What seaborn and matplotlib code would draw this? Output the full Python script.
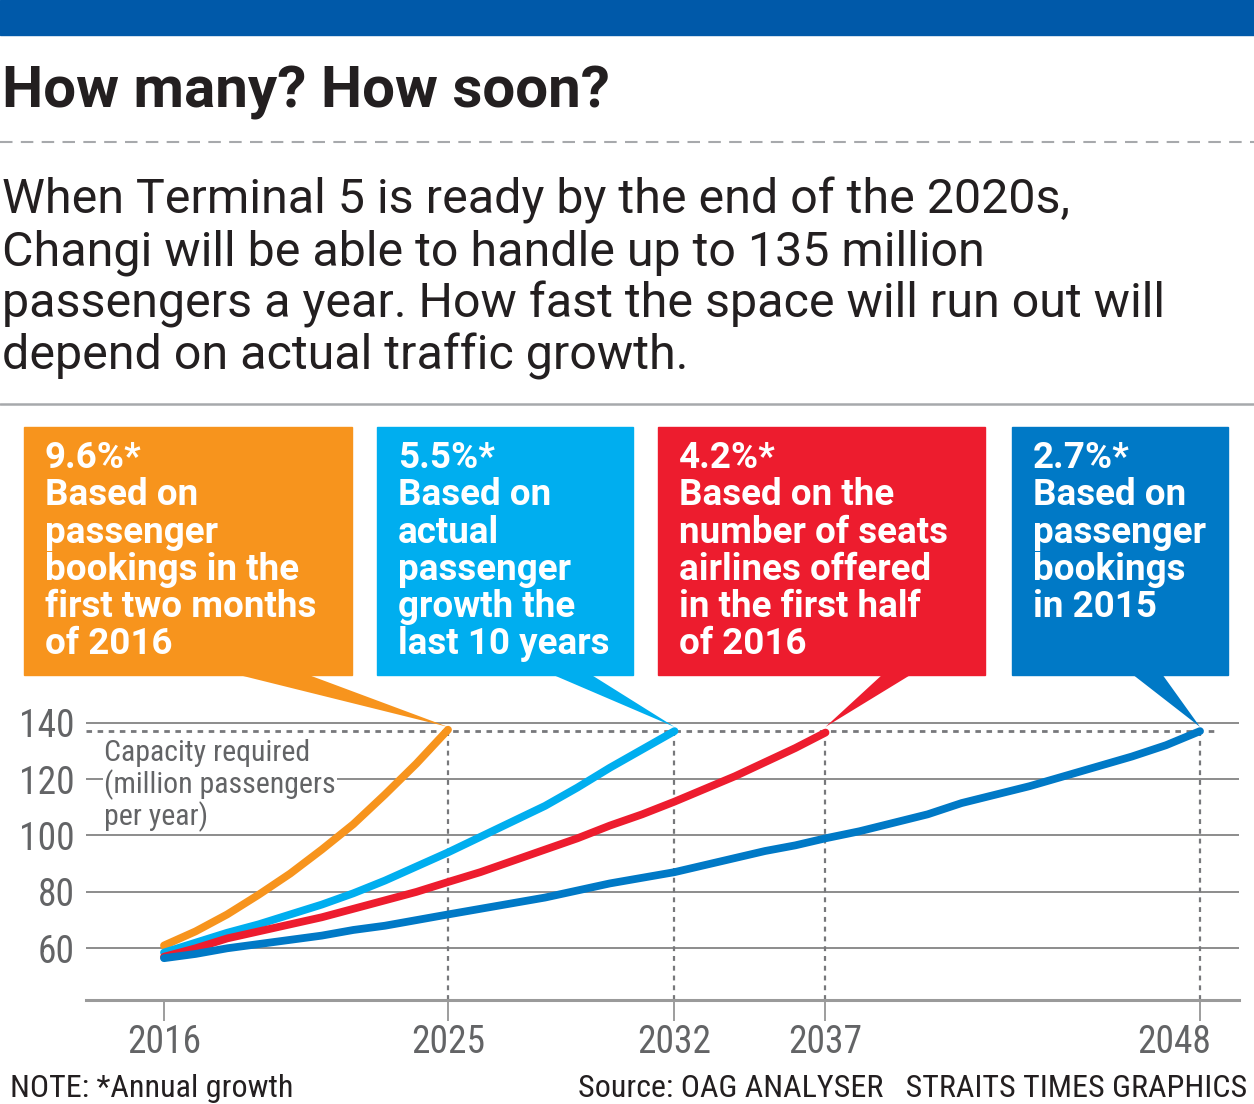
import numpy as np
import pandas as pd
import matplotlib
matplotlib.use("Agg")
import matplotlib.pyplot as plt
import matplotlib.font_manager as fm
from matplotlib.patches import Rectangle, Polygon
from matplotlib.lines import Line2D
from matplotlib.transforms import ScaledTranslation
import seaborn as sns

# ---------------- data ----------------
years_orange = [2016, 2017, 2018, 2019, 2020, 2021, 2022, 2023, 2024, 2025]
vals_orange = [61, 66, 72, 79, 86.5, 95, 104, 114.5, 125.5, 137.5]

years_lblue = list(range(2016, 2033))
vals_lblue = [58.5, 62, 65.5, 68.5, 72, 75.5, 79.5, 84, 89, 94, 99.5, 105, 110.5, 117, 124, 130.5, 137]

years_red = list(range(2016, 2038))
vals_red = [57, 60, 63.5, 66, 68.5, 71, 74, 77, 80, 83.5, 87, 91, 95, 99, 103.5, 107.5, 112,
            116.5, 121, 126, 131, 136.5]

years_dblue = list(range(2016, 2049))
vals_dblue = [56.5, 58, 60, 61.5, 63, 64.5, 66.5, 68, 70, 72, 74, 76, 78, 80.5, 83, 85, 87,
              89.5, 92, 94.5, 96.5, 99, 101.5, 104.5, 107.5, 111.5, 114.5, 117.5, 121, 124.5,
              128, 132, 137]

series_names = ["9.6%", "5.5%", "4.2%", "2.7%"]
end_years = [2025, 2032, 2037, 2048]
capacity = 137
x_ticks = [2016, 2025, 2032, 2037, 2048]
y_ticks = [60, 80, 100, 120, 140]

box_texts = [
    ["9.6%*", "Based on", "passenger", "bookings in the", "first two months", "of 2016"],
    ["5.5%*", "Based on", "actual", "passenger", "growth the", "last 10 years"],
    ["4.2%*", "Based on the", "number of seats", "airlines offered", "in the first half", "of 2016"],
    ["2.7%*", "Based on", "passenger", "bookings", "in 2015"],
]

title = "How many? How soon?"
subtitle = ["When Terminal 5 is ready by the end of the 2020s,",
            "Changi will be able to handle up to 135 million",
            "passengers a year. How fast the space will run out will",
            "depend on actual traffic growth."]
axis_label = ["Capacity required", "(million passengers", "per year)"]
note = "NOTE: *Annual growth"
source = "Source: OAG ANALYSER   STRAITS TIMES GRAPHICS"

colors = {"9.6%": "#F7941D", "5.5%": "#00AEEF", "4.2%": "#ED1C2E", "2.7%": "#0079C6"}

df = pd.concat([
    pd.DataFrame({"year": years_orange, "value": vals_orange, "series": "9.6%"}),
    pd.DataFrame({"year": years_lblue, "value": vals_lblue, "series": "5.5%"}),
    pd.DataFrame({"year": years_red, "value": vals_red, "series": "4.2%"}),
    pd.DataFrame({"year": years_dblue, "value": vals_dblue, "series": "2.7%"}),
], ignore_index=True)

# ---------------- fonts ----------------
sns.set_theme(style="white")
avail = {f.name for f in fm.fontManager.ttflist}


def pick(*names):
    for n in names:
        if n in avail:
            return n
    return "DejaVu Sans"


COND = pick("Roboto Condensed", "Liberation Sans Narrow", "DejaVu Sans")
REG = pick("Roboto", "Open Sans", "Noto Sans", "DejaVu Sans")
plt.rcParams["font.family"] = [COND, "DejaVu Sans"]

W, H = 1254, 1104
fig = plt.figure(figsize=(W / 100, H / 100), dpi=100)


def fx(x):
    return x / W


def fy(y):
    return 1 - y / H


DARK = "#231F20"
GRAY = "#636466"

# top band
fig.patches.append(Rectangle((0, fy(35)), 1, 35 / H, transform=fig.transFigure,
                             color="#0059A9", zorder=0))
fig.text(fx(2), fy(108), title, fontsize=42, fontweight="bold", color=DARK,
         family=[REG, "DejaVu Sans"], va="baseline", ha="left")
fig.lines.append(Line2D([0, 1], [fy(142), fy(142)], transform=fig.transFigure,
                        color="#A7A9AC", lw=1.5, ls=(0, (6, 4))))
for i, line in enumerate(subtitle):
    fig.text(fx(2), fy(213 + 52 * i), line, fontsize=34.8, color=DARK,
             family=[REG, "DejaVu Sans"], va="baseline", ha="left")
fig.lines.append(Line2D([0, 1], [fy(404), fy(404)], transform=fig.transFigure,
                        color="#A7A9AC", lw=1.8))

# ---------------- axes ----------------
ax = fig.add_axes([fx(86), fy(1000), (1239 - 86) / W, (1000 - 700) / H])
ax.set_facecolor("none")

k_years = [2000, 2016, 2025, 2032, 2037, 2048, 2070]
k_px = [164 - 16 * 31.56, 164, 448, 674.5, 825.5, 1200, 1200 + 22 * 34.05]


def fwd(v):
    return np.interp(v, k_years, k_px)


def inv(p):
    return np.interp(p, k_px, k_years)


sns.lineplot(data=df, x="year", y="value", hue="series", palette=colors,
             hue_order=series_names, linewidth=5.6, legend=False, ax=ax,
             solid_capstyle="round", zorder=5)
ax.set_xscale("function", functions=(fwd, inv))
ax.set_xlim(inv(86), inv(1239))
ax.set_ylim(41.67, 148.04)

for yv in y_ticks:
    ax.axhline(yv, color="#8C8C8C", lw=1.4, zorder=1)
ax.axhline(capacity, xmax=(1215 - 86) / (1239 - 86), color="#77787B", lw=2,
           ls=(0, (2, 2)), zorder=2)
for ey in end_years:
    ax.plot([ey, ey], [41.67, capacity], color="#77787B", lw=1.6, ls=(0, (2.2, 2.2)), zorder=2)

ax.set_xticks(x_ticks)
ax.set_xticklabels([str(t) for t in x_ticks])
ax.set_yticks(y_ticks)
ax.set_yticklabels([str(t) for t in y_ticks])
ax.tick_params(axis="x", length=15, width=1.2, color="#8C8C8C", direction="out", pad=2,
               labelsize=27, labelcolor=GRAY, bottom=True)
ax.tick_params(axis="y", length=0, pad=8, labelsize=27, labelcolor=GRAY)
for s in ["top", "right", "left"]:
    ax.spines[s].set_visible(False)
ax.spines["bottom"].set_color("#9A9A9A")
ax.spines["bottom"].set_linewidth(2.2)
ax.set_xlabel("")
ax.set_ylabel("")
ax.grid(False)
last = ax.get_xticklabels()[-1]
last.set_transform(last.get_transform() + ScaledTranslation(-0.26, 0, fig.dpi_scale_trans))

for i, line in enumerate(axis_label):
    fig.text(fx(104), fy(761 + 32 * i), line, fontsize=21.5, color=GRAY, va="baseline",
             ha="left", zorder=6,
             bbox=dict(facecolor="white", edgecolor="none", pad=1) if i < 2 else None)

# ---------------- callout boxes ----------------
boxes = [(24, 352), (377, 633), (658, 985), (1012, 1228)]
bases = [(235, 306), (551, 590), (883, 912), (1132, 1162)]
fig.canvas.draw()
for (x0, x1), (b0, b1), ey, name, lines in zip(boxes, bases, end_years, series_names, box_texts):
    c = colors[name]
    fig.patches.append(Rectangle((fx(x0), fy(675)), (x1 - x0) / W, (675 - 427) / H,
                                 transform=fig.transFigure, color=c, zorder=3))
    tx, ty = ax.transData.transform((ey, capacity + 1.5))
    tip = (tx / W, ty / H)
    fig.patches.append(Polygon([(fx(b0), fy(674)), (fx(b1), fy(674)), tip], closed=True,
                               transform=fig.transFigure, color=c, zorder=3, lw=0))
    for j, t in enumerate(lines):
        fig.text(fx(x0 + 21), fy(468 + 37.3 * j), t, fontsize=26.5, fontweight="bold",
                 family=[REG, "DejaVu Sans"], color="white", va="baseline", ha="left", zorder=4)

fig.text(fx(10), fy(1097), note, fontsize=23, color=DARK, va="baseline", ha="left")
fig.text(fx(1247), fy(1097), source, fontsize=23, color=DARK, va="baseline", ha="right")

fig.savefig("out.png", dpi=100)
